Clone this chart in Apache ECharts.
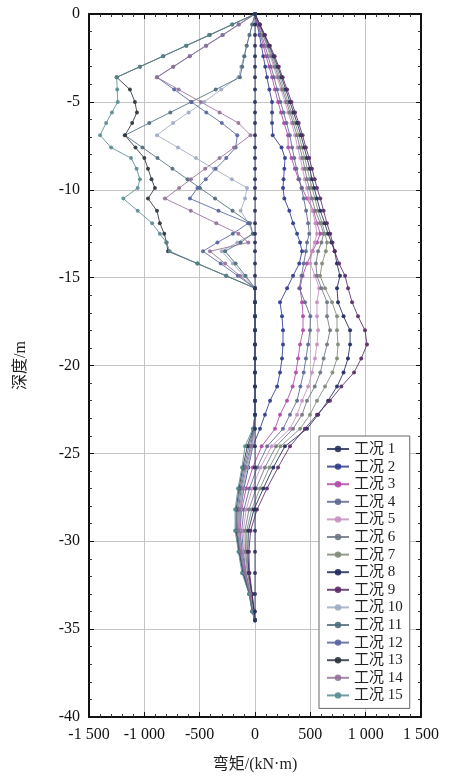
<html>

<head>
    <meta charset="utf-8">
    <script src="https://cdn.jsdelivr.net/npm/echarts@6/dist/echarts.min.js"></script>
    <style>
        body {
            margin: 0;
            background: #fff;
        }

        #main {
            width: 451px;
            height: 776px;
        }
    </style>
</head>

<body>
    <div id="main"></div>
    <script>
        // 深度节点 (m)
        var depth = [0, -0.6, -1.2, -1.8, -2.4, -3.0, -3.6, -4.3, -5.0, -5.6, -6.2, -6.9, -7.6, -8.2, -8.8, -9.4, -9.9, -10.5,
            -11.2, -11.9, -12.5, -13.0, -13.5, -14.2, -14.9, -15.6, -16.4, -17.2, -18.0, -18.8, -19.6, -20.4, -21.2, -22.0,
            -22.8, -23.6, -24.6, -25.8, -27.0, -28.2, -29.4, -30.6, -31.8, -33.0, -34.0, -34.5];

        var names = ['工况 1', '工况 2', '工况 3', '工况 4', '工况 5', '工况 6', '工况 7', '工况 8',
            '工况 9', '工况 10', '工况 11', '工况 12', '工况 13', '工况 14', '工况 15'];

        // 弯矩 (kN·m), 与 depth 一一对应
        var m1 = [0, 0, 0, 0, 0, 0, 0, 0, 0, 0, 0, 0, 0, 0, 0, 0, 0, 0, 0, 0, 0, 0, 0, 0, 0, 0,
            0, 0, 0, 0, 0, 0, 0, 0, 0, 0, 0, 0, 0, 0, 0, 0, 0, 0, 0, 0];
        var m2 = [0, 20, 40, 58, 75, 92, 108, 130, 154, 154, 154, 160, 240, 271, 265, 258, 253, 265, 310, 344, 380, 407, 425, 400,
            344, 290, 226, 244, 253, 253, 244, 226, 200, 136, 90, 45, -20, -60, -100, -130, -140, -120, -90, -45, -18, 0];
        var m3 = [0, 25, 50, 75, 100, 128, 154, 180, 208, 235, 262, 298, 300, 330, 360, 392, 425, 470, 530, 560, 590, 560, 520, 470,
            430, 407, 425, 434, 434, 407, 389, 370, 340, 289, 226, 181, 60, -20, -80, -120, -135, -115, -85, -42, -15, 0];
        var m4 = [0, 30, 60, 90, 118, 145, 172, 200, 230, 258, 285, 315, 335, 355, 375, 400, 420, 440, 462, 480, 490, 470, 460, 440,
            420, 400, 452, 500, 497, 480, 460, 440, 410, 380, 316, 253, 110, 20, -50, -100, -120, -105, -80, -40, -15, 0];
        var m5 = [0, 35, 70, 105, 138, 168, 199, 235, 271, 300, 330, 362, 385, 410, 430, 450, 470, 490, 520, 545, 560, 540, 515, 500,
            542, 580, 560, 560, 570, 560, 542, 515, 480, 425, 380, 316, 150, 50, -25, -80, -105, -95, -70, -35, -12, 0];
        var m6 = [0, 38, 75, 112, 148, 180, 212, 248, 285, 315, 345, 380, 405, 430, 450, 470, 490, 515, 545, 590, 620, 600, 570, 550,
            560, 600, 651, 651, 678, 651, 620, 590, 540, 470, 425, 344, 190, 90, 10, -55, -90, -85, -65, -32, -10, 0];
        var m7 = [0, 40, 80, 120, 158, 192, 226, 262, 298, 330, 362, 398, 425, 450, 472, 495, 515, 542, 570, 606, 633, 651, 640, 606,
            588, 633, 696, 741, 741, 750, 741, 700, 633, 560, 497, 407, 230, 130, 45, -30, -75, -75, -60, -30, -10, 0];
        var m8 = [0, 42, 85, 128, 168, 205, 240, 278, 315, 348, 380, 415, 445, 470, 495, 515, 535, 560, 590, 630, 660, 690, 720, 740,
            768, 741, 750, 800, 859, 859, 840, 800, 741, 660, 570, 470, 270, 165, 75, -10, -60, -65, -55, -28, -8, 0];
        var m9 = [0, 45, 90, 135, 178, 215, 250, 290, 330, 362, 395, 430, 460, 490, 515, 540, 560, 590, 620, 650, 680, 700, 720, 760,
            814, 841, 877, 931, 994, 1012, 960, 895, 780, 678, 560, 450, 316, 208, 108, 18, -40, -55, -50, -25, -8, 0];
        var m10 = [0, -25, -50, -75, -100, -125, -150, -305, -460, -600, -740, -886, -696, -534, -372, -209, -72, -90, -130, -60, -20,
            -160, -300, -200, -100, 0, 0, 0, 0, 0, 0, 0, 0, 0, 0, -5, -20, -70, -105, -130, -142, -122, -92, -44, -20, 0];
        var m11 = [0, -25, -50, -75, -95, -115, -136, -355, -575, -765, -955, -1175, -1017, -881, -746, -610, -497, -361, -203, -45,
            -20, -130, -270, -175, -85, 0, 0, 0, 0, 0, 0, 0, 0, 0, 0, -10, -40, -90, -125, -150, -158, -135, -100, -48, -22, 0];
        var m12 = [0, -148, -295, -443, -590, -738, -886, -730, -575, -440, -300, -160, -175, -260, -355, -445, -520, -588, -330, -60,
            -200, -340, -470, -310, -155, 0, 0, 0, 0, 0, 0, 0, 0, 0, 0, -10, -55, -100, -135, -160, -165, -140, -105, -50, -24, 0];
        var m13 = [0, -205, -410, -620, -830, -1040, -1250, -1130, -1085, -1067, -1110, -1175, -1080, -1000, -967, -935, -904, -967,
            -886, -860, -820, -800, -786, -520, -260, 0, 0, 0, 0, 0, 0, 0, 0, 0, 0, -15, -70, -110, -145, -170, -172, -145, -110, -52, -25, 0];
        var m14 = [0, -145, -290, -440, -590, -740, -886, -690, -490, -320, -150, -40, -190, -320, -450, -580, -685, -814, -580, -350,
            -150, -60, -407, -270, -135, 0, 0, 0, 0, 0, 0, 0, 0, 0, 0, -8, -30, -80, -115, -140, -150, -128, -95, -46, -21, 0];
        var m15 = [0, -208, -416, -624, -832, -1040, -1250, -1245, -1240, -1293, -1345, -1400, -1300, -1120, -1070, -1040, -1060,
            -1190, -1060, -930, -860, -800, -770, -520, -260, 0, 0, 0, 0, 0, 0, 0, 0, 0, 0, -20, -90, -118, -154, -180, -180, -150, -118, -54, -27, 0];

        var moments = [m1, m2, m3, m4, m5, m6, m7, m8, m9, m10, m11, m12, m13, m14, m15];
        var colors = ['#27305a', '#2f3a8c', '#b048a8', '#5d6890', '#c890c0', '#6e7680', '#7f8a78', '#1f2a5c',
            '#5a2a66', '#9eabc2', '#4f6a7a', '#56649e', '#2c343c', '#94729a', '#5a8c92'];

        var serif = '"Liberation Serif", "Noto Sans CJK SC", serif';

        var series = moments.map(function (m, k) {
            return {
                name: names[k],
                type: 'line',
                xAxisIndex: 0,
                yAxisIndex: 0,
                data: depth.map(function (d, i) { return [m[i], d]; }),
                symbol: 'circle',
                symbolSize: 4,
                color: colors[k],
                lineStyle: { width: 1, opacity: 0.85 },
                itemStyle: { opacity: 0.9 },
                z: k === 0 ? 4 : 3
            };
        });

        function thousand(v) {
            return String(v).replace(/(\d)(?=(\d{3})+$)/, '$1 ');
        }

        var frameLine = { show: true, onZero: false, lineStyle: { color: '#111', width: 2 } };
        var tick = { show: true, inside: true, length: 5, lineStyle: { color: '#111' } };
        var minor = { show: true, splitNumber: 5, length: 3, lineStyle: { color: '#333' } };

        var chart = echarts.init(document.getElementById('main'));
        var option = {
            animation: false,
            color: colors,
            grid: { left: 89, right: 30, top: 14, bottom: 59, outerBoundsMode: 'none' },
            legend: {
                orient: 'vertical',
                left: 319,
                top: 436,
                itemWidth: 22,
                itemHeight: 8,
                itemGap: 1.6,
                padding: [5, 7, 5, 7],
                backgroundColor: '#fff',
                borderColor: '#666',
                borderWidth: 1,
                textStyle: { fontFamily: serif, fontSize: 15, color: '#222', lineHeight: 16 },
                data: names
            },
            xAxis: [{
                type: 'value',
                position: 'bottom',
                min: -1500,
                max: 1500,
                interval: 500,
                name: '弯矩/(kN·m)',
                nameLocation: 'middle',
                nameGap: 40,
                nameTextStyle: { fontFamily: serif, fontSize: 16, color: '#222' },
                axisLine: frameLine,
                axisTick: tick,
                minorTick: minor,
                splitLine: { show: true, lineStyle: { color: '#c4c4c4', width: 1 } },
                axisLabel: { fontFamily: serif, fontSize: 16, color: '#111', margin: 10, formatter: thousand }
            }, {
                type: 'value',
                position: 'top',
                min: -1500,
                max: 1500,
                interval: 500,
                axisLine: frameLine,
                axisTick: tick,
                minorTick: minor,
                splitLine: { show: false },
                axisLabel: { show: false }
            }],
            yAxis: [{
                type: 'value',
                position: 'left',
                min: -40,
                max: 0,
                interval: 5,
                name: '深度/m',
                nameLocation: 'middle',
                nameGap: 60,
                nameRotate: 90,
                nameTextStyle: { fontFamily: serif, fontSize: 16, color: '#222' },
                axisLine: frameLine,
                axisTick: tick,
                minorTick: minor,
                splitLine: { show: true, lineStyle: { color: '#c4c4c4', width: 1 } },
                axisLabel: { fontFamily: serif, fontSize: 16, color: '#111', margin: 9 }
            }, {
                type: 'value',
                position: 'right',
                min: -40,
                max: 0,
                interval: 5,
                axisLine: frameLine,
                axisTick: tick,
                minorTick: minor,
                splitLine: { show: false },
                axisLabel: { show: false }
            }],
            series: series
        };
        chart.setOption(option);
        window.onresize = chart.resize;
    </script>
</body>

</html>
